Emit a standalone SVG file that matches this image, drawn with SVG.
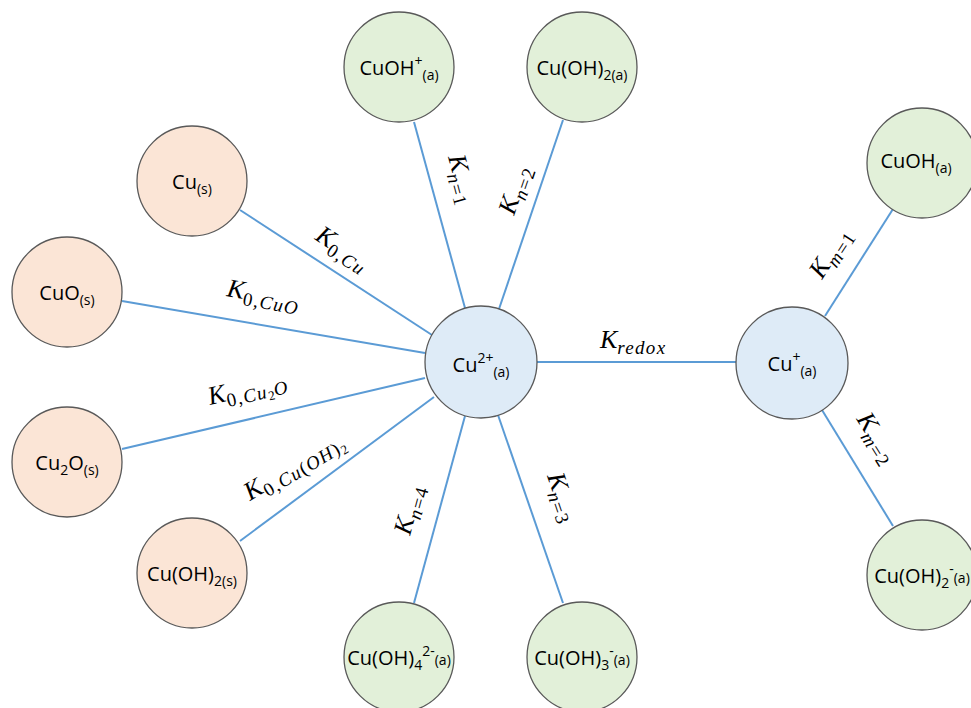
<svg xmlns="http://www.w3.org/2000/svg" width="971" height="708" viewBox="0 0 971 708">
<style>
.n{stroke:#595959;stroke-width:1.3}
.o{fill:#FBE5D6}.g{fill:#E2F0D9}.b{fill:#DEEBF7}
.t{font-family:"Open Sans","Noto Sans",sans-serif;font-size:20px;fill:#000;text-anchor:middle}
.s{font-size:14px}
.e line{stroke:#5B9BD5;stroke-width:2}
.m{font-family:"Liberation Serif",serif;font-style:italic;font-size:26px;fill:#000}
.ms{font-size:19px;letter-spacing:1.3px}
.u{font-style:normal}
</style>
<rect width="971" height="708" fill="#fff"/>
<g class="e" id="connectors">
<line x1="240" y1="210" x2="432" y2="335"/>
<line x1="122" y1="301" x2="425" y2="353"/>
<line x1="122" y1="449" x2="425" y2="378"/>
<line x1="240" y1="541" x2="434" y2="397"/>
<line x1="414" y1="122" x2="465" y2="308"/>
<line x1="563" y1="120" x2="499" y2="309"/>
<line x1="414" y1="603" x2="465" y2="416"/>
<line x1="563" y1="603" x2="498" y2="415"/>
<line x1="537" y1="362" x2="736" y2="362"/>
<line x1="825" y1="316" x2="893" y2="209"/>
<line x1="822" y1="410" x2="893" y2="526"/>
</g>
<g id="labels">
<text class="m" transform="translate(314,239) rotate(33)">K<tspan class="ms u" dy="6">0,</tspan><tspan class="ms">Cu</tspan></text>
<text class="m" transform="translate(226,296) rotate(10)">K<tspan class="ms u" dy="6">0,</tspan><tspan class="ms">CuO</tspan></text>
<text class="m" transform="translate(210,405) rotate(-13)">K<tspan class="ms u" dy="6">0,</tspan><tspan class="ms">Cu</tspan><tspan class="u" font-size="13" dy="3">2</tspan><tspan class="ms" dy="-3">O</tspan></text>
<text class="m" transform="translate(250,501) rotate(-31)">K<tspan class="ms u" dy="6">0,</tspan><tspan class="ms">Cu</tspan><tspan class="ms u">(</tspan><tspan class="ms">OH</tspan><tspan class="ms u">)</tspan><tspan class="u" font-size="13" dy="3">2</tspan></text>
<text class="m" transform="translate(448,157) rotate(75)">K<tspan class="ms" dy="6">n</tspan><tspan class="ms u">=1</tspan></text>
<text class="m" transform="translate(514,216) rotate(-71)">K<tspan class="ms" dy="6">n</tspan><tspan class="ms u">=2</tspan></text>
<text class="m" transform="translate(410,536) rotate(-75)">K<tspan class="ms" dy="6">n</tspan><tspan class="ms u">=4</tspan></text>
<text class="m" transform="translate(547,476) rotate(71)">K<tspan class="ms" dy="6">n</tspan><tspan class="ms u">=3</tspan></text>
<text class="m" transform="translate(600,348)">K<tspan class="ms" dy="6">redox</tspan></text>
<text class="m" transform="translate(822,280) rotate(-57)">K<tspan class="ms" dy="6">m</tspan><tspan class="ms u">=1</tspan></text>
<text class="m" transform="translate(856,419) rotate(58)">K<tspan class="ms" dy="6">m</tspan><tspan class="ms u">=2</tspan></text>
</g>
<g id="cu2p"><circle class="n b" cx="481" cy="362" r="56"/><text class="t" x="481" y="372">Cu<tspan class="s" dy="-9">2+</tspan><tspan class="s" dy="14">(a)</tspan></text></g>
<g id="cup"><circle class="n b" cx="792" cy="363" r="56"/><text class="t" x="792" y="371">Cu<tspan class="s" dy="-9">+</tspan><tspan class="s" dy="14">(a)</tspan></text></g>
<g id="cuohp"><circle class="n g" cx="399" cy="67" r="55"/><text class="t" x="399" y="75">CuOH<tspan class="s" dy="-9">+</tspan><tspan class="s" dy="14">(a)</tspan></text></g>
<g id="cuoh2a"><circle class="n g" cx="582" cy="67" r="55"/><text class="t" x="582" y="75">Cu(OH)<tspan class="s" dy="5">2(a)</tspan></text></g>
<g id="cuoha"><circle class="n g" cx="922" cy="163" r="55"/><text class="t" x="916" y="168">CuOH<tspan class="s" dy="5">(a)</tspan></text></g>
<g id="cuoh2m"><circle class="n g" cx="922" cy="575" r="55"/><text class="t" x="922" y="583">Cu(OH)<tspan class="s" dy="5">2</tspan><tspan class="s" dy="-14">-</tspan><tspan class="s" dy="9">(a)</tspan></text></g>
<g id="cus"><circle class="n o" cx="192" cy="181" r="55"/><text class="t" x="192" y="189">Cu<tspan class="s" dy="5">(s)</tspan></text></g>
<g id="cuos"><circle class="n o" cx="67" cy="292" r="55"/><text class="t" x="67" y="300">CuO<tspan class="s" dy="5">(s)</tspan></text></g>
<g id="cu2os"><circle class="n o" cx="67" cy="462" r="55"/><text class="t" x="67" y="470">Cu<tspan class="s" dy="5">2</tspan><tspan dy="-5">O</tspan><tspan class="s" dy="5">(s)</tspan></text></g>
<g id="cuoh2s"><circle class="n o" cx="192" cy="573" r="55"/><text class="t" x="192" y="581">Cu(OH)<tspan class="s" dy="5">2(s)</tspan></text></g>
<g id="cuoh4"><circle class="n g" cx="399" cy="657" r="55"/><text class="t" x="399" y="665">Cu(OH)<tspan class="s" dy="5">4</tspan><tspan class="s" dy="-14">2-</tspan><tspan class="s" dy="9">(a)</tspan></text></g>
<g id="cuoh3"><circle class="n g" cx="582" cy="657" r="55"/><text class="t" x="582" y="665">Cu(OH)<tspan class="s" dy="5">3</tspan><tspan class="s" dy="-14">-</tspan><tspan class="s" dy="9">(a)</tspan></text></g>
</svg>
